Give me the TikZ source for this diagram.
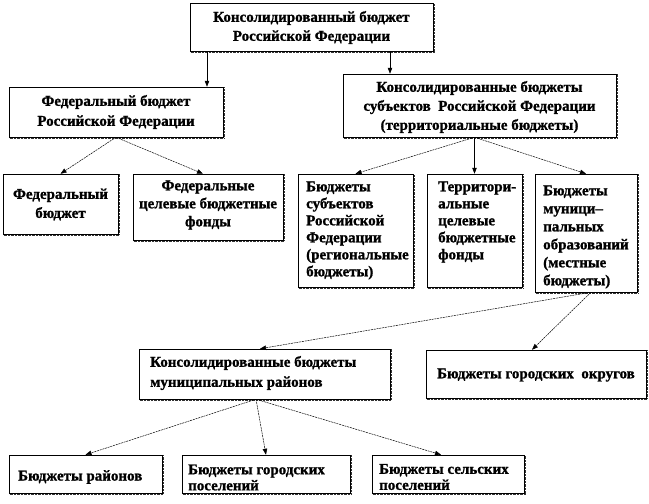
\documentclass[tikz,border=0pt]{standalone}
\usepackage{fontspec}
\setmainfont{Liberation Serif}[BoldFeatures={FakeBold=1.2}]
\usetikzlibrary{arrows.meta}
\begin{document}
\begin{tikzpicture}[x=1pt,y=-1pt,
  bx/.style={draw=black, line width=0.5pt, inner sep=0pt, fill=white,
    append after command={
      \pgfextra{\draw[line width=1pt, dash pattern=on 0.7pt off 0.7pt, black!80]
        ([xshift=0.8pt,yshift=-0.9pt]\tikzlastnode.south west) -- ([xshift=0.9pt,yshift=-0.9pt]\tikzlastnode.south east)
        -- ([xshift=0.9pt,yshift=-0.5pt]\tikzlastnode.north east);}}},
  tx/.style={inner sep=0pt, font=\bfseries\fontsize{15}{#1}\selectfont},
  tx/.default=19,
  arr/.style={line width=0.5pt, -{Triangle[length=6pt,width=4.5pt]}},
  darr/.style={arr, dash pattern=on 2pt off 0.8pt}
]
\useasboundingbox (0,0) rectangle (649,504);
% boxes
\node[bx, minimum width=243, minimum height=48] (top) at (311.5,27) {};
\node[bx, minimum width=214, minimum height=50] (fed) at (116,112) {};
\node[bx, minimum width=273, minimum height=63] (subj) at (479.5,105.5) {};
\node[bx, minimum width=115, minimum height=60] (fb) at (60.5,204) {};
\node[bx, minimum width=150, minimum height=66] (ff) at (208,207) {};
\node[bx, minimum width=115, minimum height=113] (reg) at (355.5,230.5) {};
\node[bx, minimum width=95, minimum height=113] (terr) at (474.5,230.5) {};
\node[bx, minimum width=102, minimum height=118] (mun) at (586,233) {};
\node[bx, minimum width=251, minimum height=50] (cmun) at (264.5,374) {};
\node[bx, minimum width=220, minimum height=48] (city) at (536,374) {};
\node[bx, minimum width=153, minimum height=38] (b1) at (85.5,474) {};
\node[bx, minimum width=168, minimum height=38] (b2) at (266,474) {};
\node[bx, minimum width=152, minimum height=38] (b3) at (448,474) {};
% texts
\node[tx=19, align=center] (ttop) at (311.5,27.5) {Консолидированный бюджет\\Российской Федерации};
\node[tx=20, align=center] (tfed) at (116,112) {Федеральный бюджет\\Российской Федерации};
\node[tx=19, align=center] (tsubj) at (479.5,107) {Консолидированные бюджеты\\субъектов\ \ Российской Федерации\\(территориальные бюджеты)};
\node[tx=19, align=center] (tfb) at (60.5,204.5) {Федеральный\\бюджет};
\node[tx=18, align=center] (tff) at (208,205) {Федеральные\\целевые бюджетные\\фонды};
\node[tx=17, align=left, anchor=west] (treg) at (306,230.5) {Бюджеты\\субъектов\\Российской\\Федерации\\(региональные\\бюджеты)};
\node[tx=17, align=left, anchor=west] (tterr) at (438,222) {Территори-\\альные\\целевые\\бюджетные\\фонды};
\node[tx=18, align=left, anchor=west] (tmun) at (543,237) {Бюджеты\\муници–\\пальных\\образований\\(местные\\бюджеты)};
\node[tx=20, align=left, anchor=west] (tcmun) at (150,373) {Консолидированные бюджеты\\муниципальных районов};
\node[tx=19, align=center] (tcity) at (536,375) {Бюджеты городских\ \ округов};
\node[tx=19, align=left, anchor=west] (tb1) at (18,477) {Бюджеты районов};
\node[tx=16, align=left, anchor=west] (tb2) at (188,477.5) {Бюджеты городских\\поселений};
\node[tx=16, align=left, anchor=west] (tb3) at (379,477) {Бюджеты сельских\\поселений};
% connectors
\draw[arr] (top.south -| 207,0) -- (fed.north -| 207,0);
\draw[arr] (top.south -| 390,0) -- (subj.north -| 390,0);
\draw[darr] (fed.south) -- (fb.north);
\draw[darr] (fed.south) -- (ff.north -| 203,0);
\draw[darr] (subj.south -| terr.north) -- (reg.north);
\draw[arr] (subj.south -| terr.north) -- (terr.north);
\draw[darr] (subj.south -| terr.north) -- (mun.north);
\draw[darr] (mun.south -| 591,0) -- (cmun.north -| 260,0);
\draw[darr] (mun.south -| 591,0) -- (city.north -| 532,0);
\draw[darr] (cmun.south -| 256,0) -- (b1.north);
\draw[darr] (cmun.south -| 256,0) -- (b2.north);
\draw[darr] (cmun.south -| 256,0) -- (b3.north -| 441,0);
\end{tikzpicture}
\end{document}
